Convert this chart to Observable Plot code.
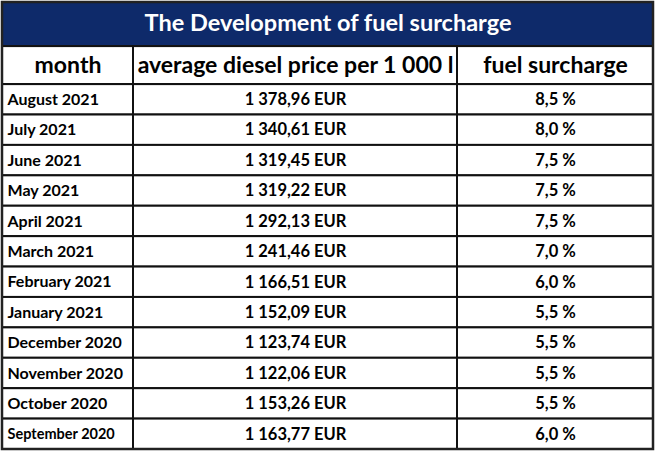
<!DOCTYPE html>
<html>
<head>
<meta charset="utf-8">
<script src="https://cdn.jsdelivr.net/npm/d3@7"></script>
<script src="https://cdn.jsdelivr.net/npm/@observablehq/plot@0.6"></script>
<style>
  html, body { margin: 0; padding: 0; background: #fff; }
  #chart svg { display: block; }
</style>
</head>
<body>
<div id="chart"></div>
<script>
// ---- data ----
const title = "The Development of fuel surcharge";
const headers = ["month", "average diesel price per 1 000 l", "fuel surcharge"];
const months = ["August 2021", "July 2021", "June 2021", "May 2021", "April 2021", "March 2021",
  "February 2021", "January 2021", "December 2020", "November 2020", "October 2020", "September 2020"];
const prices = ["1 378,96 EUR", "1 340,61 EUR", "1 319,45 EUR", "1 319,22 EUR", "1 292,13 EUR", "1 241,46 EUR",
  "1 166,51 EUR", "1 152,09 EUR", "1 123,74 EUR", "1 122,06 EUR", "1 153,26 EUR", "1 163,77 EUR"];
const surcharges = ["8,5 %", "8,0 %", "7,5 %", "7,5 %", "7,5 %", "7,0 %",
  "6,0 %", "5,5 %", "5,5 %", "5,5 %", "5,5 %", "6,0 %"];

// ---- layout (grid units) ----
const colWidths = [131, 324, 196];
const colEdges = [0];
colWidths.forEach(w => colEdges.push(colEdges[colEdges.length - 1] + w));
const headerH = 1.25, titleH = 1.45;

const cells = [];
months.forEach((m, i) => {
  [m, prices[i], surcharges[i]].forEach((t, c) => {
    cells.push({row: i, col: c, text: t, x1: colEdges[c], x2: colEdges[c + 1], y1: i, y2: i + 1});
  });
});
const firstCol = cells.filter(d => d.col === 0);
const otherCols = cells.filter(d => d.col !== 0);
const headerCells = headers.map((h, c) => ({text: h, x1: colEdges[c], x2: colEdges[c + 1], y1: -headerH, y2: 0}));
const titleCell = [{text: title, x1: 0, x2: colEdges[3], y1: -headerH - titleH, y2: -headerH}];

const font = "Lato, 'Open Sans', sans-serif";

const chart = Plot.plot({
  width: 657,
  height: 457,
  margin: 0,
  x: {domain: [0, colEdges[3]], range: [2, 653], axis: null},
  y: {domain: [-headerH - titleH, months.length], range: [2, 449], axis: null},
  style: {fontFamily: font, background: "#fff"},
  marks: [
    Plot.rect(titleCell, {x1: "x1", x2: "x2", y1: "y1", y2: "y2", fill: "#0e2a6a", stroke: "#333", strokeWidth: 2}),
    Plot.text(titleCell, {x: d => (d.x1 + d.x2) / 2, y: d => (d.y1 + d.y2) / 2, text: "text",
      fill: "#fff", fontSize: 23.5, fontWeight: "bold", dy: -1}),
    Plot.rect(headerCells, {x1: "x1", x2: "x2", y1: "y1", y2: "y2", fill: "#fff", stroke: "#111", strokeWidth: 2}),
    Plot.text(headerCells, {x: d => (d.x1 + d.x2) / 2, y: d => (d.y1 + d.y2) / 2, text: "text",
      fill: "#000", fontSize: 23, fontWeight: "bold", dy: 0}),
    Plot.rect(cells, {x1: "x1", x2: "x2", y1: "y1", y2: "y2", fill: "#fff", stroke: "#111", strokeWidth: 2}),
    Plot.text(firstCol, {
      x: "x1", y: d => (d.y1 + d.y2) / 2, text: "text",
      textAnchor: "start", dx: 5,
      fill: "#000", fontSize: d => d.text.length > 13 ? 14.5 : 16, fontWeight: "bold"
    }),
    Plot.text(otherCols, {
      x: d => (d.x1 + d.x2) / 2, y: d => (d.y1 + d.y2) / 2, text: "text",
      textAnchor: "middle",
      fill: "#000", fontSize: 16.5, fontWeight: "bold"
    }),
    Plot.rect([0], {x1: 0, x2: colEdges[3], y1: -headerH - titleH, y2: months.length, fill: "none", stroke: "#222", strokeWidth: 2.5})
  ]
});
document.getElementById("chart").appendChild(chart);
</script>
</body>
</html>
